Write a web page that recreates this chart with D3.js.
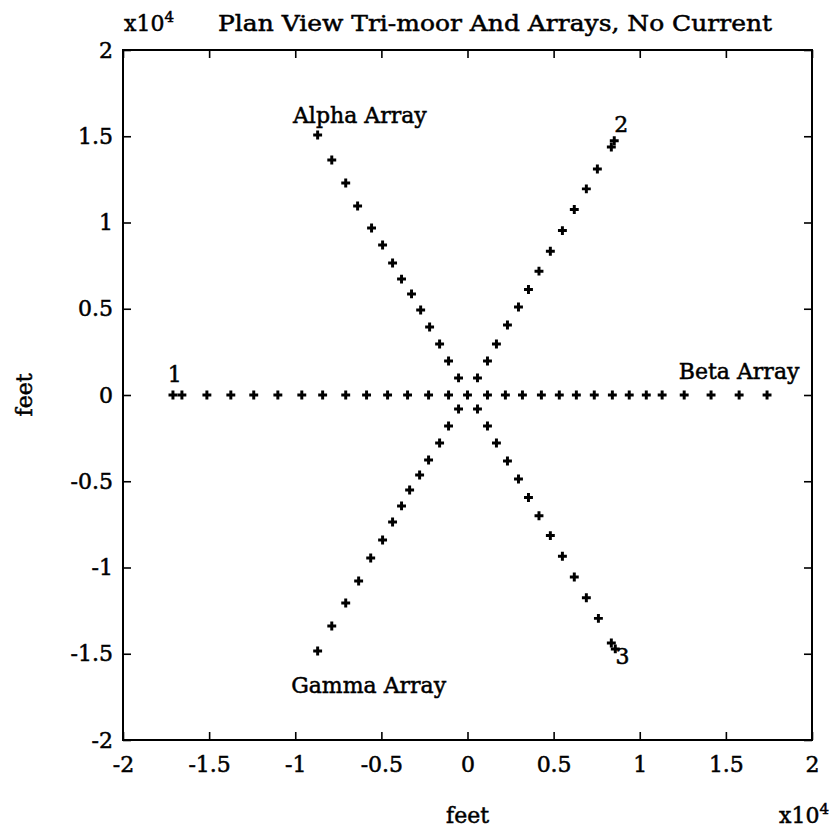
<!DOCTYPE html>
<html>
<head>
<meta charset="utf-8">
<script src="https://cdn.jsdelivr.net/npm/d3@7"></script>
<style>
  body { margin: 0; background: #fff; }
  svg text { font-family: "DejaVu Serif", "Liberation Serif", serif; fill: #000; stroke: #000; stroke-width: 0.5px; }
</style>
</head>
<body>
<div id="chart"></div>
<script>
// values are in units of 10^4 feet
const ticks = [-2, -1.5, -1, -0.5, 0, 0.5, 1, 1.5, 2];
const tickLabels = ["-2", "-1.5", "-1", "-0.5", "0", "0.5", "1", "1.5", "2"];

// mooring legs 1, 2, 3
const leg1X = [-0.110, -0.226, -0.348, -0.464, -0.586, -0.707, -0.841, -0.962, -1.101, -1.241, -1.374, -1.513, -1.658, -1.710];
const leg1Y = [0, 0, 0, 0, 0, 0, 0, 0, 0, 0, 0, 0, 0, 0];
const leg2X = [0.058, 0.116, 0.168, 0.232, 0.296, 0.354, 0.415, 0.481, 0.551, 0.620, 0.690, 0.754, 0.835, 0.852];
const leg2Y = [0.099, 0.197, 0.296, 0.406, 0.510, 0.612, 0.718, 0.833, 0.953, 1.075, 1.195, 1.310, 1.438, 1.474];
const leg3X = [0.058, 0.116, 0.168, 0.232, 0.296, 0.354, 0.415, 0.481, 0.551, 0.620, 0.690, 0.760, 0.835, 0.858];
const leg3Y = [-0.081, -0.180, -0.278, -0.383, -0.487, -0.594, -0.700, -0.815, -0.935, -1.055, -1.175, -1.295, -1.438, -1.472];

// arrays
const betaX = [0, 0.116, 0.220, 0.319, 0.429, 0.533, 0.632, 0.736, 0.841, 0.939, 1.038, 1.130, 1.258, 1.414, 1.577, 1.739];
const betaY = [0, 0, 0, 0, 0, 0, 0, 0, 0, 0, 0, 0, 0, 0, 0, 0];
const alphaX = [-0.052, -0.110, -0.162, -0.220, -0.272, -0.325, -0.383, -0.435, -0.493, -0.557, -0.638, -0.707, -0.788, -0.870];
const alphaY = [0.099, 0.197, 0.296, 0.394, 0.493, 0.586, 0.672, 0.765, 0.870, 0.968, 1.096, 1.229, 1.362, 1.507];
const gammaX = [-0.052, -0.110, -0.162, -0.226, -0.278, -0.336, -0.383, -0.435, -0.493, -0.562, -0.632, -0.707, -0.788, -0.870];
const gammaY = [-0.081, -0.180, -0.278, -0.377, -0.464, -0.551, -0.643, -0.736, -0.841, -0.945, -1.078, -1.206, -1.339, -1.484];

// text labels placed in data coordinates
const labels = [
  { text: "1", x: -1.70, y: 0.075 },
  { text: "2", x: 0.893, y: 1.525 },
  { text: "3", x: 0.90, y: -1.56 },
  { text: "Alpha Array", x: -0.625, y: 1.577 },
  { text: "Beta Array", x: 1.577, y: 0.093 },
  { text: "Gamma Array", x: -0.574, y: -1.727 }
];

const width = 832, height = 833;
const margins = { top: 50, right: 20, bottom: 93, left: 123 };

const svg = d3.select("#chart").append("svg")
  .attr("width", width)
  .attr("height", height);

const xScale = d3.scaleLinear().domain([-2, 2]).range([margins.left, width - margins.right]);
const yScale = d3.scaleLinear().domain([-2, 2]).range([height - margins.bottom, margins.top]);

const x0 = xScale(-2), x1 = xScale(2), y0 = yScale(-2), y1 = yScale(2);

// axes, ticks pointing inwards on all four sides
const tickLen = 8;
svg.append("g")
  .attr("transform", `translate(0,${y0})`)
  .call(d3.axisBottom(xScale).tickValues(ticks).tickSize(-tickLen).tickPadding(16)
    .tickFormat((d, i) => tickLabels[i]))
  .call(g => g.select(".domain").remove());
svg.append("g")
  .attr("transform", `translate(0,${y1})`)
  .call(d3.axisTop(xScale).tickValues(ticks).tickSize(-tickLen).tickFormat(""))
  .call(g => g.select(".domain").remove());
svg.append("g")
  .attr("transform", `translate(${x0},0)`)
  .call(d3.axisLeft(yScale).tickValues(ticks).tickSize(-tickLen).tickPadding(10)
    .tickFormat((d, i) => tickLabels[i]))
  .call(g => g.select(".domain").remove());
svg.append("g")
  .attr("transform", `translate(${x1},0)`)
  .call(d3.axisRight(yScale).tickValues(ticks).tickSize(-tickLen).tickFormat(""))
  .call(g => g.select(".domain").remove());

svg.selectAll(".tick line").attr("stroke", "#000").attr("stroke-width", 1.6);
svg.selectAll(".tick text")
  .attr("font-size", "22px")
  .attr("font-family", "DejaVu Serif, serif")
  .attr("fill", "#000");

svg.append("rect")
  .attr("x", x0).attr("y", y1)
  .attr("width", x1 - x0).attr("height", y0 - y1)
  .attr("fill", "none")
  .attr("stroke", "#000")
  .attr("stroke-width", 2);

// markers
const points = [];
[[leg1X, leg1Y], [leg2X, leg2Y], [leg3X, leg3Y], [betaX, betaY], [alphaX, alphaY], [gammaX, gammaY]]
  .forEach(([xs, ys]) => xs.forEach((v, i) => points.push({ x: v, y: ys[i] })));

svg.append("g")
  .selectAll("path")
  .data(points)
  .join("path")
  .attr("transform", d => `translate(${xScale(d.x)},${yScale(d.y)})`)
  .attr("d", d3.symbol().type(d3.symbolCross).size(44))
  .attr("fill", "#000");

// in-plot labels
svg.append("g")
  .selectAll("text")
  .data(labels)
  .join("text")
  .attr("x", d => xScale(d.x))
  .attr("y", d => yScale(d.y))
  .attr("text-anchor", "middle")
  .attr("font-size", "22px")
  .text(d => d.text);

// title and exponent labels
svg.append("text")
  .attr("x", 218).attr("y", 31)
  .attr("font-size", "22px")
  .attr("textLength", 554)
  .attr("lengthAdjust", "spacingAndGlyphs")
  .text("Plan View Tri-moor And Arrays, No Current");

function exponent(x, y) {
  const t = svg.append("text").attr("x", x).attr("y", y).attr("font-size", "22px");
  t.append("tspan").text("x10");
  t.append("tspan").attr("dy", -9).attr("font-size", "15px").text("4");
}
exponent(124, 31);
exponent(779, 823);

// axis titles
svg.append("text")
  .attr("x", xScale(0)).attr("y", 823)
  .attr("text-anchor", "middle")
  .attr("font-size", "22px")
  .text("feet");

svg.append("text")
  .attr("transform", `translate(32,${yScale(0)}) rotate(-90)`)
  .attr("text-anchor", "middle")
  .attr("font-size", "22px")
  .text("feet");
</script>
</body>
</html>
